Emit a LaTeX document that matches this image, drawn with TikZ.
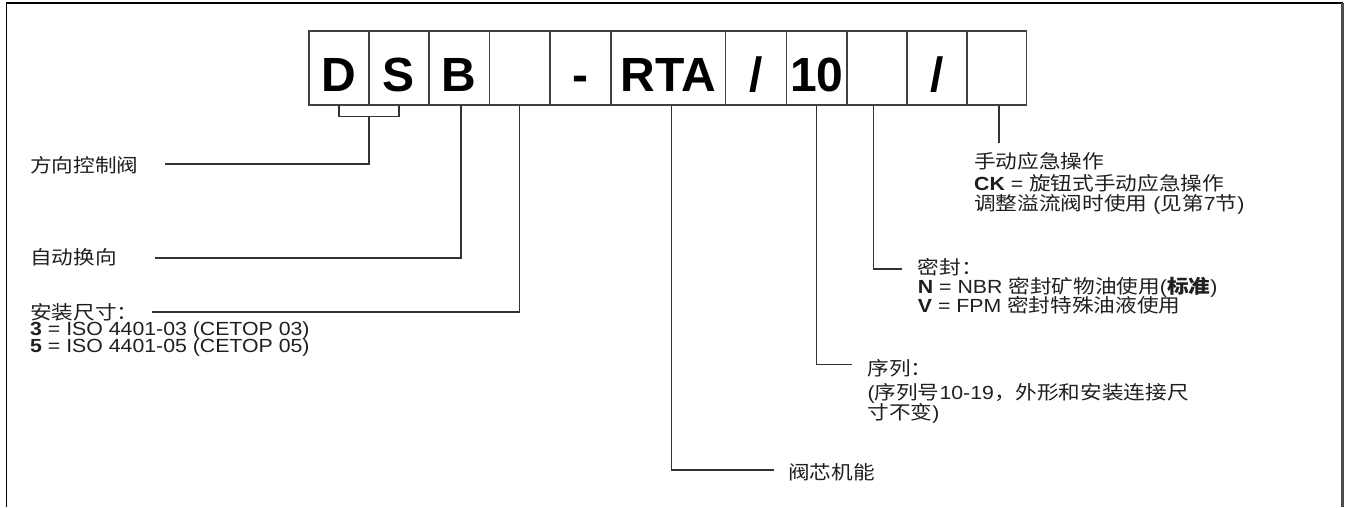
\documentclass[tikz,border=0pt]{standalone}
\usepackage{fontspec}
\setmainfont{Liberation Sans}[FakeStretch=1.12]
\newfontfamily\bigfont{Liberation Sans}
\newfontfamily\cjk{Noto Sans CJK SC}[FakeStretch=1.14]
\newcommand\zhc[1]{{\cjk #1}}
\usetikzlibrary{calc}
\begin{document}
\begin{tikzpicture}[x=1pt,y=-1pt,
  cell/.style={draw=black!75, line width=1.1pt, minimum height=74pt, inner sep=0pt,
    text height=47.4pt, text depth=0pt, font=\bigfont\bfseries\fontsize{48}{48}\selectfont},
  lbl/.style={anchor=base west, inner sep=0pt, font=\fontsize{19}{19}\selectfont, text=black!88},
  conn/.style={draw=black!80, line width=1.2pt}]
\useasboundingbox (0,0) rectangle (1346,507);
% frame
\draw[line width=1.8pt] (6.5,507) -- (6.5,3.3) -- (1342.5,3.3);
\draw[black!70,line width=2.2pt] (1342.5,3.3) -- (1342.5,507);
% cells
\node[cell, minimum width=60pt]    (cD)    at (339,68)   {D};
\node[cell, minimum width=60pt]    (cS)    at (399,68)   {S};
\node[cell, minimum width=60.5pt]  (cB)    at (459.2,68) {B};
\node[cell, minimum width=60.5pt]  (cM)    at (519.7,68) {};
\node[cell, minimum width=60.5pt]  (cDash) at (580.5,68) {-};
\node[cell, minimum width=114.7pt] (cRTA)  at (668.4,68) {RTA};
\node[cell, minimum width=61pt]    (cSlA)  at (756.2,68) {/};
\node[cell, minimum width=60.3pt]  (cTen)  at (816.8,68) {10};
\node[cell, minimum width=60pt]    (cSeal) at (877,68)   {};
\node[cell, minimum width=60pt]    (cSlB)  at (937,68)   {/};
\node[cell, minimum width=59.7pt]  (cMan)  at (996.9,68) {};
% connector ends
\coordinate (eDir)   at (165,164);
\coordinate (eAuto)  at (154.6,258);
\coordinate (eMount) at (151.8,312);
\coordinate (eFunc)  at (773.5,470);
\coordinate (eSer)   at (851.7,364.3);
\coordinate (eSealL) at (901.7,269);
\coordinate (eMan)   at (999,142.7);
% connectors
\draw[conn] (cD.south) -- ++(0,11) -| (cS.south);
\draw[conn] ($(cD.south)!0.5!(cS.south)+(0,11)$) |- (eDir);
\draw[conn] ([xshift=1.8pt]cB.south) |- (eAuto);
\draw[conn] (cM.south) |- (eMount);
\draw[conn] ([xshift=3.3pt]cRTA.south) |- (eFunc);
\draw[conn] (cTen.south) |- (eSer);
\draw[conn] ([xshift=-3.3pt]cSeal.south) |- (eSealL);
\draw[conn] (eMan |- cMan.south) -- (eMan);
% labels
\node[lbl] (tDir)   at (30,172.5) {\zhc{方向控制阀}};
\node[lbl] (tAuto)  at (30,264.5) {\zhc{自动换向}};
\node[lbl] (tMount) at (30,319.5) {\zhc{安装尺寸：}};
\node[lbl] (tMa)    at (30,335.5) {\textbf{3} = ISO 4401-03 (CETOP 03)};
\node[lbl] (tMb)    at (30,352.5) {\textbf{5} = ISO 4401-05 (CETOP 05)};
\node[lbl] (tManA)  at (974,168.7) {\zhc{手动应急操作}};
\node[lbl] (tManB)  at (974,190)   {\textbf{CK} = \zhc{旋钮式手动应急操作}};
\node[lbl] (tManC)  at (974,210.5) {\zhc{调整溢流阀时使用} (\zhc{见第}7\zhc{节})};
\node[lbl] (tSealA) at (917.7,274) {\zhc{密封：}};
\node[lbl] (tSealB) at (917.7,293) {\textbf{N} = NBR \zhc{密封矿物油使用}(\zhc{\bfseries 标准})};
\node[lbl] (tSealC) at (917.7,312) {\textbf{V} = FPM \zhc{密封特殊油液使用}};
\node[lbl] (tSerA)  at (867.3,375) {\zhc{序列：}};
\node[lbl] (tSerB)  at (867.3,399) {(\zhc{序列号}10-19\zhc{，外形和安装连接尺}};
\node[lbl] (tSerC)  at (867.3,419) {\zhc{寸不变})};
\node[lbl] (tFunc)  at (788,479)   {\zhc{阀芯机能}};
\end{tikzpicture}
\end{document}
